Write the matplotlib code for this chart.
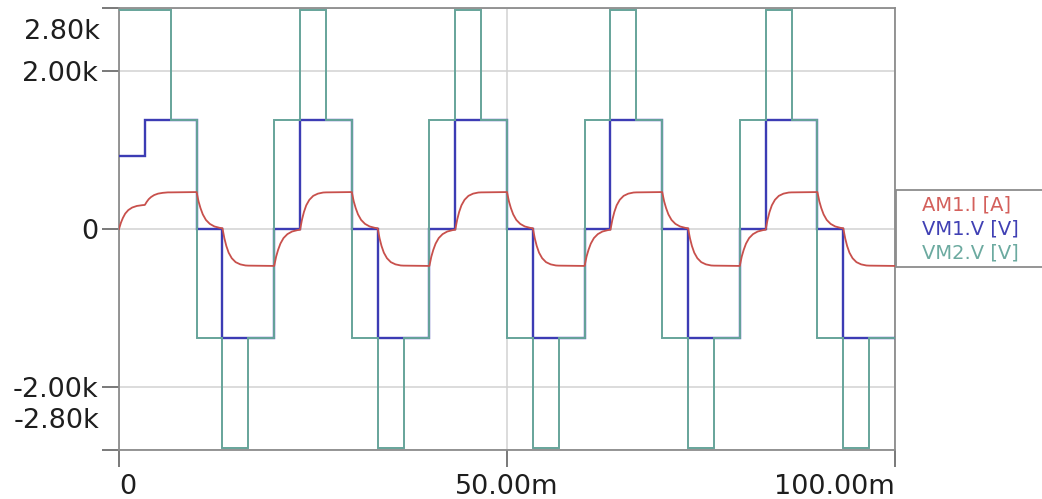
import matplotlib
matplotlib.use('Agg')
import matplotlib.pyplot as plt
from matplotlib.patches import Rectangle

# time axis is in ms, labels use the "m" suffix like the simulator
step_edges = [0, 3.33, 6.67, 10.0, 13.33, 16.67, 20.0, 23.33, 26.67, 30.0,
              33.33, 36.67, 40.0, 43.33, 46.67, 50.0, 53.33, 56.67, 60.0, 63.33,
              66.67, 70.0, 73.33, 76.67, 80.0, 83.33, 86.67, 90.0, 93.33, 96.67, 100.0]

# VM1.V [V] - one level per step
vm1_levels = [925, 1385, 1385, 0, -1385, -1385,
              0, 1385, 1385, 0, -1385, -1385,
              0, 1385, 1385, 0, -1385, -1385,
              0, 1385, 1385, 0, -1385, -1385,
              0, 1385, 1385, 0, -1385, -1385]

# VM2.V [V] - one level per step
vm2_levels = [2770, 2770, 1385, -1385, -2770, -1385,
              1385, 2770, 1385, -1385, -2770, -1385,
              1385, 2770, 1385, -1385, -2770, -1385,
              1385, 2770, 1385, -1385, -2770, -1385,
              1385, 2770, 1385, -1385, -2770, -1385]

# AM1.I [A] - steady state period (ms relative to period start)
am1_t_period = [0, 0.25, 0.5, 0.8, 1.2, 1.7, 2.3, 3.0,
                3.33, 3.58, 3.83, 4.13, 4.53, 5.03, 5.63, 6.3,
                6.67, 10.0, 10.25, 10.5, 10.8, 11.2, 11.7, 12.3, 13.0,
                13.33, 13.58, 13.83, 14.13, 14.53, 15.03, 15.63, 16.3, 16.67]
am1_i_period = [-468, -350, -265, -185, -115, -65, -32, -14,
                -10, 118, 215, 300, 370, 420, 448, 462,
                464, 468, 350, 265, 185, 115, 65, 32, 14,
                10, -118, -215, -300, -370, -420, -448, -462, -464]

# AM1.I [A] - start-up part of the first period
am1_t_start = [0, 0.25, 0.5, 0.8, 1.2, 1.7, 2.3, 3.0,
               3.33, 3.58, 3.83, 4.13, 4.53, 5.03, 5.63, 6.3]
am1_i_start = [0, 80, 140, 195, 240, 272, 292, 302,
               305, 345, 378, 405, 430, 448, 458, 464]

period = 20.0
n_periods = 5
am1_end = -468

x_ticks = [0, 50, 100]
x_labels = ['0', '50.00m', '100.00m']
y_ticks = [-2800, -2000, 0, 2000, 2800]
y_labels = ['', '-2.00k', '0', '2.00k', '']

red = '#c8504c'
blue = '#3c3cb4'
teal = '#66a49a'
edge = '#8c8c8c'

# assemble the current trace
am1_t = list(am1_t_start)
am1_i = list(am1_i_start)
for t, i in zip(am1_t_period, am1_i_period):
    if t >= 6.67:
        am1_t.append(t)
        am1_i.append(i)
for k in range(1, n_periods):
    am1_t += [t + k * period for t in am1_t_period]
    am1_i += am1_i_period
am1_t.append(n_periods * period)
am1_i.append(am1_end)

fig = plt.figure(figsize=(10.42, 4.99), dpi=100)
ax = fig.add_axes([119 / 1042, 1 - 450 / 499, (895 - 119) / 1042, (450 - 8) / 499])

ax.stairs(vm1_levels, step_edges, baseline=None, color=blue, lw=1.7, zorder=3)
ax.stairs(vm2_levels, step_edges, baseline=None, color=teal, lw=1.4, zorder=4)
ax.plot(am1_t, am1_i, color=red, lw=1.3, zorder=5)

ax.set_xlim(0, 100)
ax.set_ylim(-2800, 2800)
ax.set_xticks(x_ticks)
ax.set_xticklabels(x_labels)
ax.set_yticks(y_ticks)
ax.set_yticklabels(y_labels)
for lab, ha in zip(ax.get_xticklabels(), ['left', 'center', 'right']):
    lab.set_ha(ha)

ax.grid(True, color='#d2d2d2', lw=1.1, zorder=0)
for s in ax.spines.values():
    s.set_color(edge)
    s.set_linewidth(1.3)
ax.tick_params(axis='both', length=12, width=1.3, color='#6e6e6e',
               labelsize=19.5, labelcolor='#1e1e1e')
ax.tick_params(axis='y', pad=3)
ax.tick_params(axis='x', pad=5)

# the +-2.80k labels sit inside the range, just like the original
ax.annotate('2.80k', xy=(0, 2800), xycoords=('axes fraction', 'data'),
            xytext=(-14, -17), textcoords='offset points', ha='right', va='center',
            fontsize=19.5, color='#1e1e1e')
ax.annotate('-2.80k', xy=(0, -2800), xycoords=('axes fraction', 'data'),
            xytext=(-14, 21), textcoords='offset points', ha='right', va='center',
            fontsize=19.5, color='#1e1e1e')

# legend box on the right
fig.add_artist(Rectangle((896 / 1042, 1 - 267 / 499), 0.2, 77 / 499,
                         transform=fig.transFigure, facecolor='white',
                         edgecolor=edge, lw=1.3, clip_on=False))
names = ['AM1.I [A]', 'VM1.V [V]', 'VM2.V [V]']
colors = ['#d4605c', '#4040b4', '#6caaa0']
rows = [205, 229, 253]
for name, c, y in zip(names, colors, rows):
    fig.text(922 / 1042, 1 - y / 499, name, color=c, fontsize=14, va='center')

fig.savefig('out.png', dpi=100, facecolor='white')
